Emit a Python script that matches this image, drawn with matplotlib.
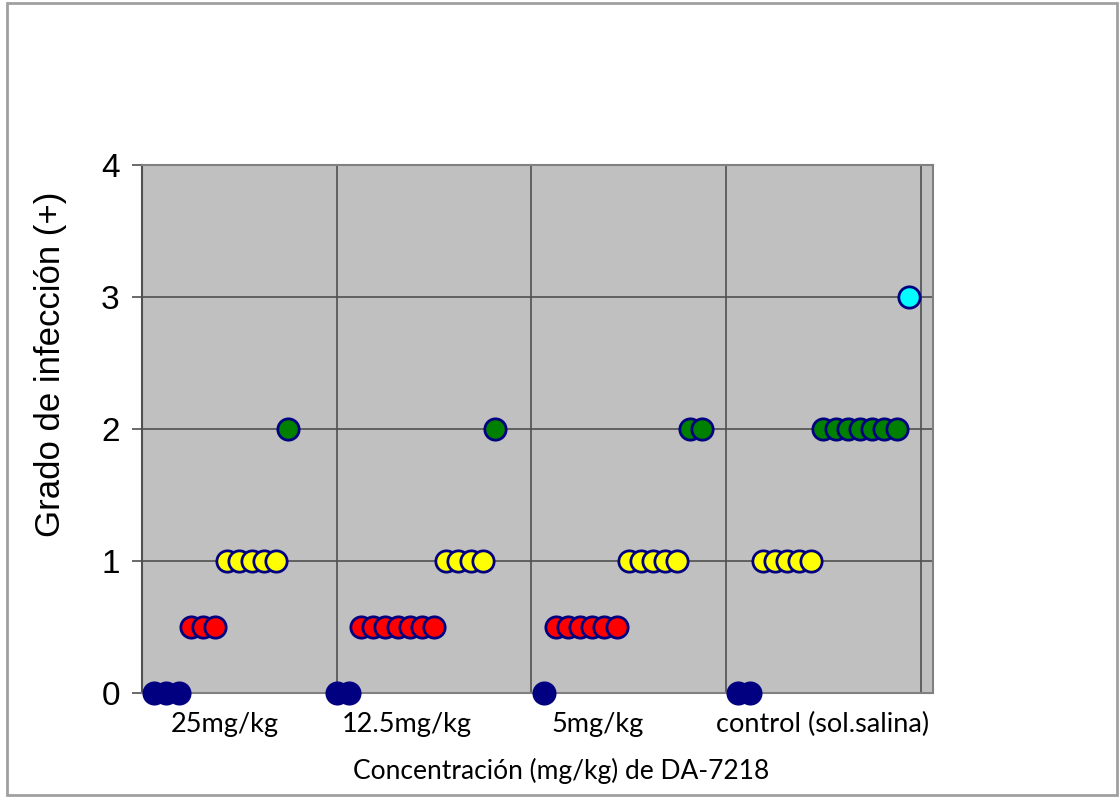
import matplotlib.pyplot as plt
from matplotlib.patches import Rectangle

# x = animal index along the axis, y = grado de infeccion
blue_x = [1, 2, 3, 16, 17, 33, 49, 50]
blue_y = [0, 0, 0, 0, 0, 0, 0, 0]
red_x = [4, 5, 6, 18, 19, 20, 21, 22, 23, 24, 34, 35, 36, 37, 38, 39]
red_y = [0.5] * 16
yellow_x = [7, 8, 9, 10, 11, 25, 26, 27, 28, 40, 41, 42, 43, 44, 51, 52, 53, 54, 55]
yellow_y = [1] * 19
green_x = [12, 29, 45, 46, 56, 57, 58, 59, 60, 61, 62]
green_y = [2] * 11
cyan_x = [63]
cyan_y = [3]

y_ticks = [0, 1, 2, 3, 4]
y_labels = ["0", "1", "2", "3", "4"]
groups = ["25mg/kg", "12.5mg/kg", "5mg/kg", "control (sol.salina)"]
group_pos = [0.105, 0.335, 0.576, 0.86]  # axes fraction for the group captions

plt.rcParams["font.family"] = ["Liberation Sans", "DejaVu Sans"]

fig = plt.figure(figsize=(11.19, 7.97), dpi=100)
fig.patches.append(Rectangle((0.006, 0.002), 0.992, 0.994, transform=fig.transFigure,
                             fill=False, edgecolor="#a0a0a0", linewidth=2))

ax = fig.add_axes([0.1269, 0.1305, 0.7069, 0.6625])
ax.set_facecolor("#c0c0c0")

series = [
    (blue_x, blue_y, "#000080"),
    (red_x, red_y, "#ff0000"),
    (yellow_x, yellow_y, "#ffff00"),
    (green_x, green_y, "#008000"),
    (cyan_x, cyan_y, "#00ffff"),
]
# draw point by point in x order so each circle overlaps the previous one
pts = []
for xs, ys, c in series:
    for x, y in zip(xs, ys):
        pts.append((x, y, c))
pts.sort(key=lambda p: p[0])
for x, y, c in pts:
    ax.scatter(x, y, s=235, color=c, edgecolors="#000080", linewidths=2,
               zorder=3, clip_on=False)

ax.set_xlim(0, 65)
ax.set_ylim(0, 4)
ax.set_xticks([16, 32, 48, 64])
ax.set_yticks(y_ticks)
ax.set_yticklabels(y_labels)
ax.grid(True, color="#505050", linewidth=1.2, zorder=1)
ax.set_axisbelow(True)
ax.tick_params(axis="x", length=0, labelbottom=False)
ax.tick_params(axis="y", length=7, width=1.2, color="#505050", pad=9,
               labelsize=24)

for side in ["top", "right", "bottom"]:
    ax.spines[side].set_color("#808080")
    ax.spines[side].set_linewidth(1.5)
ax.spines["left"].set_color("#505050")
ax.spines["left"].set_linewidth(1.5)

fig.text(0.045, 0.543, "Grado de infección (+)", rotation=90, ha="center",
         va="center", fontsize=25)

for g, p in zip(groups, group_pos):
    ax.text(p, -0.059, g, transform=ax.transAxes, ha="center", va="center",
            fontsize=19.5, family="Lato")

ax.text(0.53, -0.148, "Concentración (mg/kg) de DA-7218", transform=ax.transAxes,
        ha="center", va="center", fontsize=19, family="Lato")

fig.savefig("out.png", dpi=100)
